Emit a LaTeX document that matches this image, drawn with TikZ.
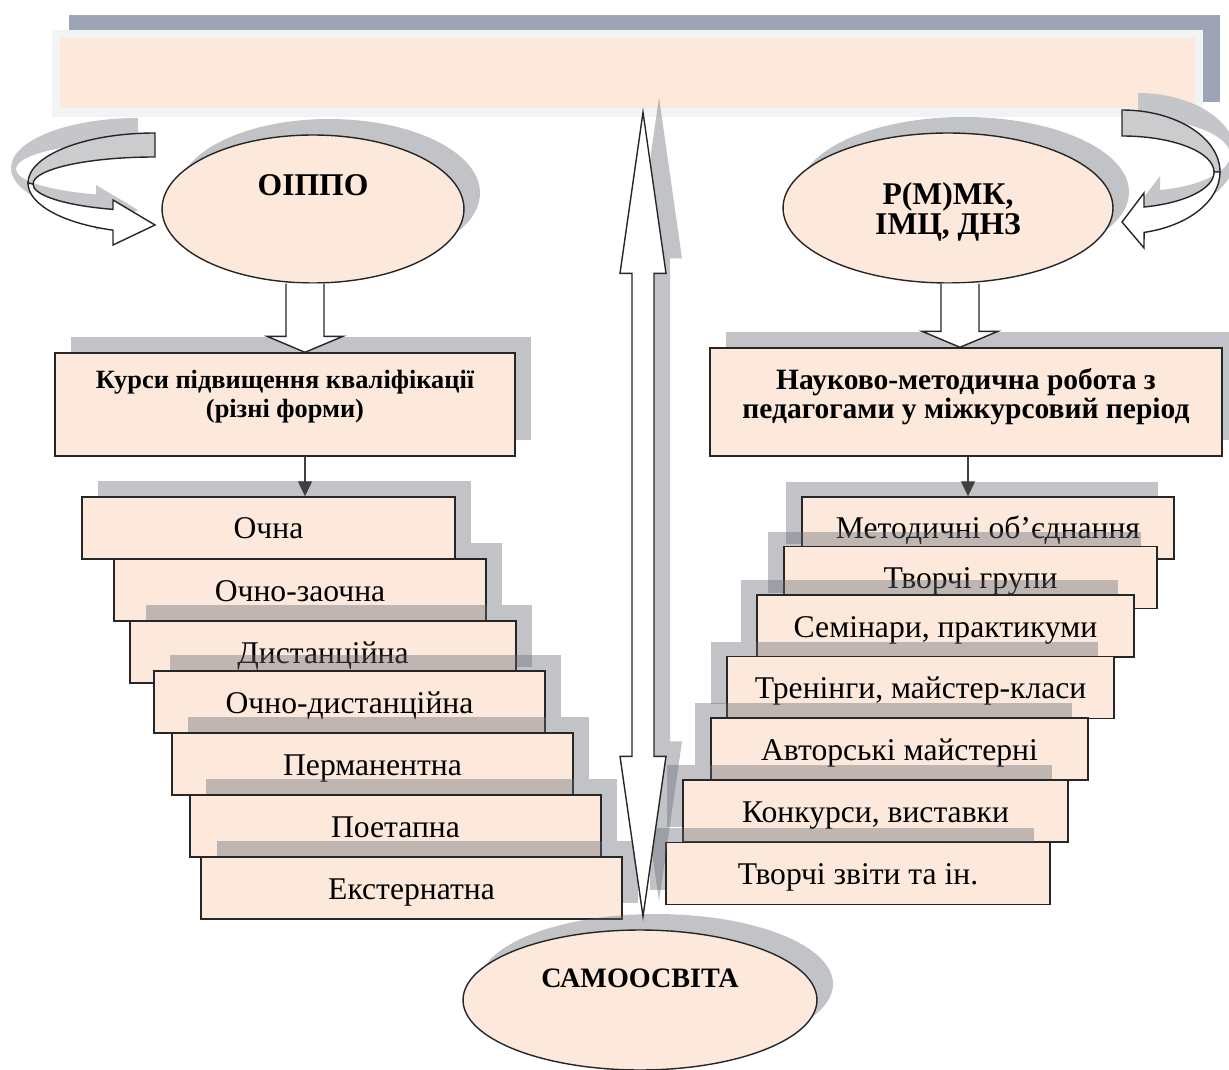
\documentclass[tikz,border=0pt]{standalone}
\usepackage{fontspec}
\setmainfont{Liberation Serif}
\usepackage{tikz}
\usetikzlibrary{shapes.geometric,arrows.meta,shadows,calc}
\definecolor{peach}{HTML}{FCE9DB}
\definecolor{frame}{HTML}{F2F3F3}
\definecolor{slate}{HTML}{9CA4B5}
\definecolor{shade}{HTML}{646973}
\definecolor{loopgray}{HTML}{CBCCCE}
\definecolor{loopshade}{HTML}{C5C6C9}
\definecolor{ink}{HTML}{262626}

\begin{document}
\begin{tikzpicture}[
    x=0.02cm, y=-0.02cm,
    box/.style={rectangle, draw=ink, fill=peach, line width=0.8pt, minimum height=1.24cm, text height=0.44cm, text depth=0pt, font=\fontsize{18}{21}\selectfont},
    headbox/.style={rectangle, draw=ink, fill=peach, line width=0.8pt, align=center, font=\bfseries\fontsize{16}{16.5}\selectfont},
    oval/.style={ellipse, draw=ink, fill=peach, line width=0.8pt, align=center, font=\bfseries\fontsize{18}{17}\selectfont},
    lshadow/.style={drop shadow={shadow xshift=0.32cm, shadow yshift=0.32cm, fill=shade, opacity=0.4}},
    rshadow/.style={drop shadow={shadow xshift=-0.32cm, shadow yshift=0.3cm, fill=shade, opacity=0.4}},
    hollow/.style={draw=ink, fill=white, line width=0.8pt},
    loopback/.style={draw=ink, fill=loopgray, line width=0.8pt},
    loopfront/.style={draw=ink, fill=white, line width=0.8pt},
    arrow/.style={->, >={Triangle[length=0.3cm, width=0.28cm]}, draw=black!75, line width=0.7pt},
]
\useasboundingbox (0,0) rectangle (1229,1070);

% banner
\node[rectangle, fill=frame, minimum width=23.02cm, minimum height=1.74cm,
      drop shadow={shadow xshift=0.34cm, shadow yshift=0.3cm, fill=slate, opacity=1}] (banner) at (627.5,73.5) {};
\node[rectangle, fill=peach, minimum width=22.7cm, minimum height=1.4cm] (bannerin) at (banner.center) {};

% left loop arrow
\begin{scope}[shift={(-17,-15)}]
  \fill[loopshade] (155,133) arc[start angle=-90, end angle=-180, x radius=127, y radius=50] -- (33,184) arc[start angle=180, end angle=270, x radius=122, y radius=27] -- cycle;
  \fill[loopshade] (28,183) arc[start angle=180, end angle=109.3, x radius=127, y radius=50] -- (113,245) -- (155,225) -- (113,200) -- (113,209.4) arc[start angle=110.1, end angle=180, x radius=122, y radius=27] -- cycle;
\end{scope}
\path[loopback] (155,133) arc[start angle=-90, end angle=-180, x radius=127, y radius=50] -- (33,184) arc[start angle=180, end angle=270, x radius=122, y radius=27] -- cycle;
\path[loopfront] (28,183) arc[start angle=180, end angle=109.3, x radius=127, y radius=50] -- (113,245) -- (155,225) -- (113,200) -- (113,209.4) arc[start angle=110.1, end angle=180, x radius=122, y radius=27] -- cycle;

% right loop arrow
\begin{scope}[shift={(16,-17)}]
  \fill[loopshade] (1122,110) arc[start angle=-90, end angle=0, x radius=98, y radius=62] -- (1214,172) arc[start angle=0, end angle=-90, x radius=92, y radius=36] -- cycle;
  \fill[loopshade] (1220,172) arc[start angle=0, end angle=77, x radius=98, y radius=62] -- (1144,248) -- (1122,222) -- (1144,193) -- (1144,207) arc[start angle=76.2, end angle=0, x radius=92, y radius=36] -- cycle;
\end{scope}
\path[loopback] (1122,110) arc[start angle=-90, end angle=0, x radius=98, y radius=62] -- (1214,172) arc[start angle=0, end angle=-90, x radius=92, y radius=36] -- cycle;
\path[loopfront] (1220,172) arc[start angle=0, end angle=77, x radius=98, y radius=62] -- (1144,248) -- (1122,222) -- (1144,193) -- (1144,207) arc[start angle=76.2, end angle=0, x radius=92, y radius=36] -- cycle;

% ovals
\node[oval, lshadow, minimum width=6.04cm, minimum height=2.96cm, text height=0.42cm, text depth=0.94cm] (oippo) at (313,209) {ОІППО};
\node[oval, lshadow, minimum width=6.6cm, minimum height=3cm] (rmmk) at (948,208) {\rule{0pt}{0.6cm}Р(М)МК,\\ІМЦ, ДНЗ};

% head boxes
\node[headbox, lshadow, minimum width=9.2cm, minimum height=2.06cm, font=\bfseries\fontsize{15}{16.5}\selectfont] (kursy) at (285,404.5)
    {Курси підвищення кваліфікації\\(різні форми)\rule[-0.42cm]{0pt}{0.42cm}};
\node[headbox, lshadow, minimum width=10.24cm, minimum height=2.16cm, font=\bfseries\fontsize{16.8}{16.5}\selectfont] (nauk) at (966,402)
    {Науково-методична робота з\\педагогами у міжкурсовий період\rule[-0.36cm]{0pt}{0.36cm}};

\coordinate (ktip) at ($(kursy.north)+(20,0)$);
\coordinate (ntip) at ($(nauk.north)+(-6,0)$);
\draw[hollow] ($(ktip |- oippo.south)+(-19,0)$) -- ($(ktip)+(-19,-16)$) -- ($(ktip)+(-38,-16)$) -- (ktip)
    -- ($(ktip)+(38,-16)$) -- ($(ktip)+(19,-16)$) -- ($(ktip |- oippo.south)+(19,0)$);
\draw[hollow] ($(ntip |- rmmk.south)+(-19,0)$) -- ($(ntip)+(-19,-16)$) -- ($(ntip)+(-38,-16)$) -- (ntip)
    -- ($(ntip)+(38,-16)$) -- ($(ntip)+(19,-16)$) -- ($(ntip |- rmmk.south)+(19,0)$);

% left stairs
\node[box, lshadow, minimum width=7.44cm] (ozaoch) at (300,590) {Очно-заочна};
\node[box, lshadow, minimum width=7.46cm] (ochna) at (268.5,528) {Очна};
\node[box, lshadow, minimum width=7.72cm] (dyst) at (323,652) {Дистанційна};
\node[box, lshadow, minimum width=7.82cm] (odyst) at (349.5,702) {Очно-дистанційна};
\node[box, lshadow, minimum width=8.02cm] (perm) at (372.5,764) {Перманентна};
\node[box, lshadow, minimum width=8.22cm] (poet) at (395.5,826) {Поетапна};
\node[box, lshadow, minimum width=8.42cm] (ext) at (411.5,888) {Екстернатна};

% right stairs
\node[box, rshadow, minimum width=7.44cm] (metod) at (988,528) {Методичні об’єднання};
\node[box, rshadow, minimum width=7.46cm] (tvgr) at (970.5,577.5) {Творчі групи};
\node[box, rshadow, minimum width=7.54cm] (semin) at (945.5,626) {Семінари, практикуми};
\node[box, rshadow, minimum width=7.74cm] (trening) at (920.5,687.5) {Тренінги, майстер-класи};
\node[box, rshadow, minimum width=7.54cm] (avtor) at (899.5,749) {Авторські майстерні};
\node[box, rshadow, minimum width=7.7cm] (konk) at (875.5,811) {Конкурси, виставки};
\node[box, rshadow, minimum width=7.68cm] (zvit) at (858,873.5) {Творчі звіти та ін.};

\coordinate (ka) at ($(kursy.south)+(20,0)$);
\coordinate (na) at ($(nauk.south)+(2,0)$);
\draw[arrow] (ka) -- (ka |- ochna.north);
\draw[arrow] (na) -- (na |- metod.north);

% self-education
\node[oval, lshadow, minimum width=7.08cm, minimum height=2.8cm, text height=0.37cm, text depth=0.89cm,
      font=\bfseries\fontsize{16}{18}\selectfont] (samo) at (640,1000) {САМООСВІТА};

\coordinate (up) at ($(banner.south)+(15.5,-5)$);
\coordinate (dn) at ($(samo.north)+(3,-13)$);
\draw[hollow, drop shadow={shadow xshift=0.32cm, shadow yshift=0.3cm, fill=shade, opacity=0.4}]
    (up) -- ($(up)+(23,161)$) -- ($(up)+(11,161)$) -- ($(dn)+(11,-160)$) -- ($(dn)+(23,-160)$) -- (dn)
    -- ($(dn)+(-23,-160)$) -- ($(dn)+(-11,-160)$) -- ($(up)+(-11,161)$) -- ($(up)+(-23,161)$) -- cycle;
\end{tikzpicture}
\end{document}
